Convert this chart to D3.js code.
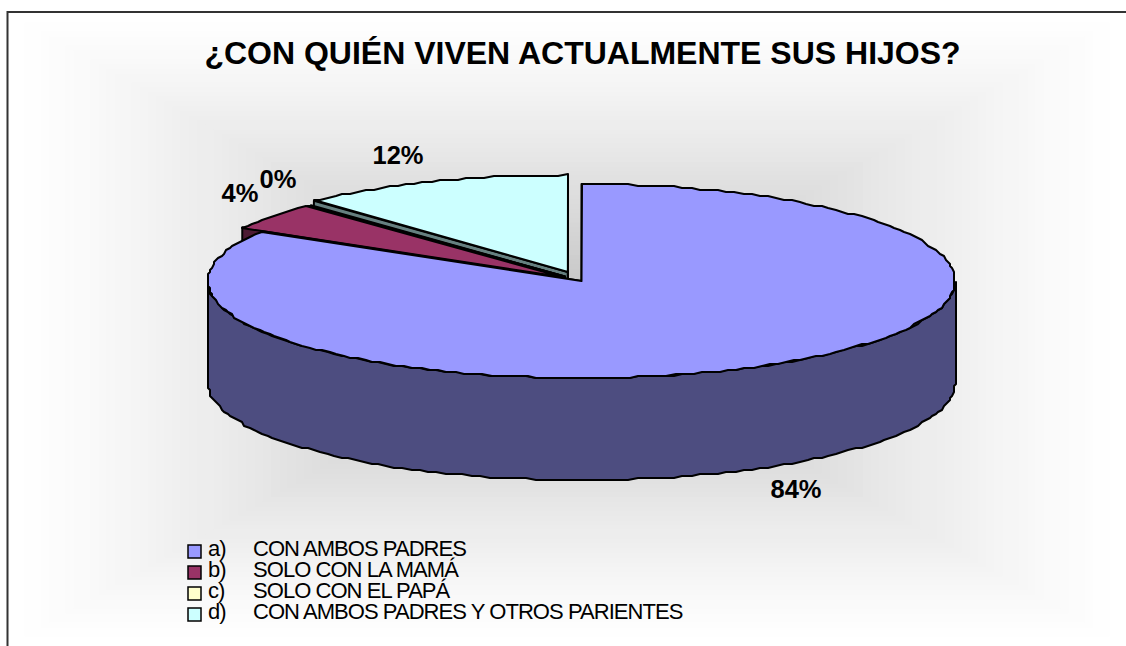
<!DOCTYPE html>
<html>
<head>
<meta charset="utf-8">
<script src="https://d3js.org/d3.v7.min.js"></script>
<style>
  html, body { margin: 0; padding: 0; background: #fff; }
  svg { display: block; }
  text { font-family: "Liberation Sans", Arial, sans-serif; fill: #000; }
</style>
</head>
<body>
<div class="chart"></div>
<script>
var chartTitle = "¿CON QUIÉN VIVEN ACTUALMENTE SUS HIJOS?";
var letters = ["a)", "b)", "c)", "d)"];
var categories = ["CON AMBOS PADRES", "SOLO CON LA MAMÁ", "SOLO CON EL PAPÁ", "CON AMBOS PADRES Y OTROS PARIENTES"];
var values = [83.6, 4.3, 0.2, 11.9];
var topColors = ["#9999ff", "#993366", "#ffffcc", "#ccffff"];
var wallColors = ["#4d4d80", "#4d1a33", "#808066", "#668080"];

var svgWidth = 1126;
var svgHeight = 646;

var svg = d3.select(".chart")
  .append("svg")
  .attr("width", svgWidth)
  .attr("height", svgHeight);

// background: rectangular gradient in visible bands, white at the edge
var plot = { left: 8, top: 13, right: 1126, bottom: 646 };
var bandCount = 68;
var bandColor = d3.scaleLinear()
  .domain([0, 1])
  .range(["#ffffff", "#bbbbbb"])
  .interpolate(d3.interpolateRgb);
var bands = d3.range(bandCount).map(d => d / bandCount);
var bandX = (plot.right - plot.left) / 2;
var bandY = (plot.bottom - plot.top) / 2;

svg.append("g").selectAll("rect")
  .data(bands)
  .enter()
  .append("rect")
  .attr("x", d => plot.left + d * bandX)
  .attr("y", d => plot.top + d * bandY)
  .attr("width", d => (plot.right - plot.left) * (1 - d))
  .attr("height", d => (plot.bottom - plot.top) * (1 - d))
  .attr("fill", d => bandColor(Math.pow(d, 1.25)));

// frame only shows on top and left
svg.append("path")
  .attr("d", d3.line()([[7.5, 646], [7.5, 12], [1126, 12]]))
  .attr("fill", "none")
  .attr("stroke", "#333")
  .attr("stroke-width", 2);

svg.append("text")
  .attr("x", 582.5)
  .attr("y", 64)
  .attr("text-anchor", "middle")
  .attr("font-size", 32)
  .attr("font-weight", "bold")
  .text(chartTitle);

// pie geometry
var center = { x: 581.5, y: 281 };
var rx = 373.5;
var ry = 97;
var depth = 102;
var explosion = [0, 0.065, 0.065, 0.1];

var pie = d3.pie().sort(null).value(d => d)(values);

function rim(c, t) {
  return [c.x + rx * Math.sin(t), c.y - ry * Math.cos(t)];
}

// snapped to a small grid, the original outline is a bit stepped
function rimPoints(c, a0, a1, dy) {
  var n = Math.max(2, Math.ceil((a1 - a0) * 40));
  return d3.range(n + 1).map(function (i) {
    var p = rim(c, a0 + (a1 - a0) * i / n);
    return [Math.round(p[0] / 2) * 2, Math.round((p[1] + dy) / 2) * 2];
  });
}

var line = d3.line();
var pieGroup = svg.append("g")
  .attr("stroke", "#000")
  .attr("stroke-width", 2)
  .attr("stroke-linejoin", "round");

// small slices first, the big one goes on top of them
[3, 2, 1, 0].forEach(function (i) {
  var s = pie[i];
  var mid = (s.startAngle + s.endAngle) / 2;
  var c = {
    x: center.x + explosion[i] * rx * Math.sin(mid),
    y: center.y - explosion[i] * ry * Math.cos(mid)
  };

  // cut faces
  [s.startAngle, s.endAngle].forEach(function (t) {
    var p = rim(c, t);
    pieGroup.append("path")
      .attr("d", line([[c.x, c.y], p, [p[0], p[1] + depth], [c.x, c.y + depth]]) + "Z")
      .attr("fill", wallColors[i]);
  });

  // outer wall, only the front half can be seen
  var a0 = Math.max(s.startAngle, Math.PI / 2);
  var a1 = Math.min(s.endAngle, Math.PI * 1.5);
  if (a1 > a0) {
    var wall = rimPoints(c, a0, a1, 0).concat(rimPoints(c, a0, a1, depth).reverse());
    pieGroup.append("path")
      .attr("d", line(wall) + "Z")
      .attr("fill", wallColors[i]);
  }

  // top
  var top = [[c.x, c.y]].concat(rimPoints(c, s.startAngle, s.endAngle, 0));
  pieGroup.append("path")
    .attr("d", line(top) + "Z")
    .attr("fill", topColors[i]);
});

// data labels
var labelPos = [[796, 498], [240, 202], [278, 188], [398, 164]];
svg.append("g").selectAll("text")
  .data(values)
  .enter()
  .append("text")
  .attr("x", (d, i) => labelPos[i][0])
  .attr("y", (d, i) => labelPos[i][1])
  .attr("text-anchor", "middle")
  .attr("font-size", 25.5)
  .attr("font-weight", "bold")
  .text(d => d3.format(".0f")(d) + "%");

// legend
var legendY = d3.scalePoint().domain(d3.range(categories.length)).range([549, 612]);
var legend = svg.append("g").selectAll("g")
  .data(categories)
  .enter()
  .append("g")
  .attr("transform", (d, i) => `translate(0, ${legendY(i)})`);

legend.append("rect")
  .attr("x", 188)
  .attr("y", -4)
  .attr("width", 13)
  .attr("height", 13)
  .attr("fill", (d, i) => topColors[i])
  .attr("stroke", "#000")
  .attr("stroke-width", 1.5);

legend.append("text")
  .attr("x", 208)
  .attr("y", 7)
  .attr("font-size", 22)
  .attr("letter-spacing", -0.95)
  .text((d, i) => letters[i]);

legend.append("text")
  .attr("x", 253)
  .attr("y", 7)
  .attr("font-size", 22)
  .attr("letter-spacing", -0.95)
  .text(d => d);
</script>
</body>
</html>
